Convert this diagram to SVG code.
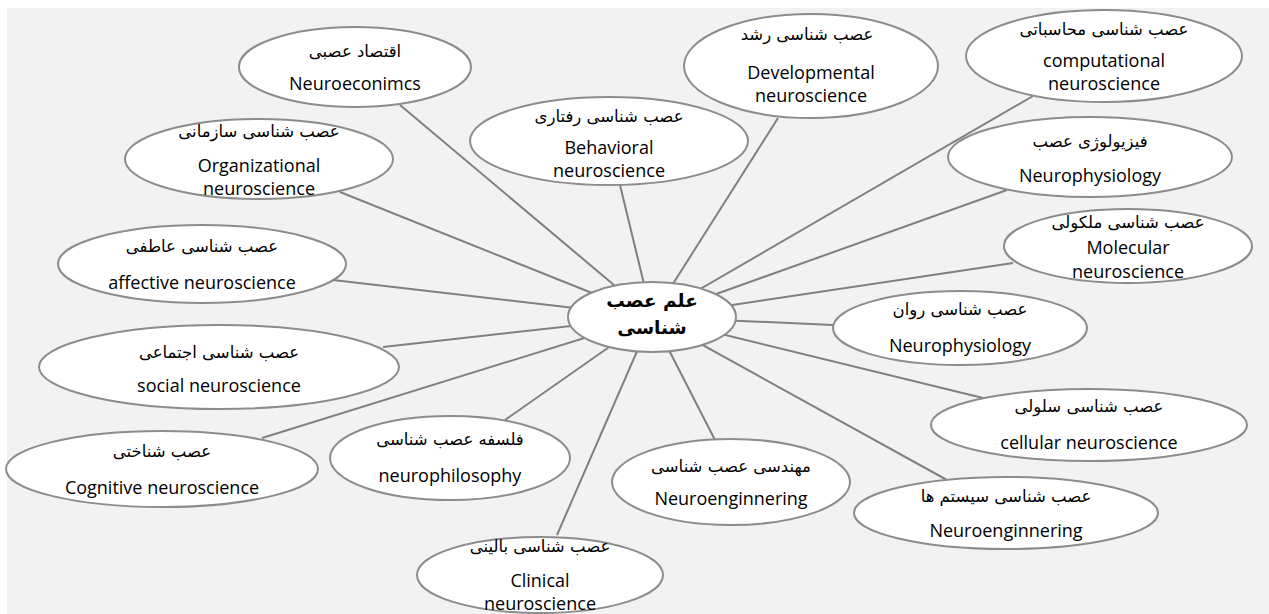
<svg xmlns="http://www.w3.org/2000/svg" width="1269" height="614" viewBox="0 0 1269 614">
<style>
.bg{fill:#f2f2f2}
.node ellipse{fill:#ffffff;stroke:#8c8c8c;stroke-width:2}
.edges line{stroke:#808080;stroke-width:2}
.fa{font-family:"DejaVu Sans",sans-serif;font-size:16.5px;fill:#000;text-anchor:middle}
.en{font-family:"Open Sans","Liberation Sans",sans-serif;font-size:18px;fill:#000;text-anchor:middle}
.ct{font-family:"DejaVu Sans",sans-serif;font-size:18.5px;font-weight:bold;fill:#000;text-anchor:middle}
</style>
<rect class="bg" x="7" y="8" width="1262" height="606"/>
<g id="connectors" class="edges">
<line x1="652" y1="317" x2="400" y2="105"/>
<line x1="652" y1="317" x2="340" y2="192"/>
<line x1="652" y1="317" x2="620" y2="185"/>
<line x1="652" y1="317" x2="778" y2="118"/>
<line x1="652" y1="317" x2="1033" y2="96"/>
<line x1="652" y1="317" x2="1007" y2="190"/>
<line x1="652" y1="317" x2="1013" y2="263"/>
<line x1="652" y1="317" x2="833" y2="325"/>
<line x1="652" y1="317" x2="983" y2="398"/>
<line x1="652" y1="317" x2="947" y2="480"/>
<line x1="652" y1="317" x2="715" y2="440"/>
<line x1="652" y1="317" x2="557" y2="535"/>
<line x1="652" y1="317" x2="505" y2="420"/>
<line x1="652" y1="317" x2="262" y2="438"/>
<line x1="652" y1="317" x2="383" y2="347"/>
<line x1="652" y1="317" x2="333" y2="280"/>
</g>
<g id="n-neuroeconomics" class="node">
<ellipse cx="355" cy="67" rx="116" ry="40"/>
<text class="fa" x="355" y="57">اقتصاد عصبی</text>
<text class="en" x="355" y="90">Neuroeconimcs</text>
</g>
<g id="n-organizational" class="node">
<ellipse cx="259" cy="159" rx="134" ry="40"/>
<text class="fa" x="259" y="137">عصب شناسی سازمانی</text>
<text class="en" x="259" y="172">Organizational</text>
<text class="en" x="259" y="195">neuroscience</text>
</g>
<g id="n-behavioral" class="node">
<ellipse cx="609" cy="141" rx="139" ry="44"/>
<text class="fa" x="609" y="122">عصب شناسی رفتاری</text>
<text class="en" x="609" y="154">Behavioral</text>
<text class="en" x="609" y="177">neuroscience</text>
</g>
<g id="n-developmental" class="node">
<ellipse cx="811" cy="66" rx="127" ry="52"/>
<text class="fa" x="807" y="40">عصب شناسی رشد</text>
<text class="en" x="811" y="79">Developmental</text>
<text class="en" x="811" y="102">neuroscience</text>
</g>
<g id="n-computational" class="node">
<ellipse cx="1104" cy="56" rx="138" ry="46"/>
<text class="fa" x="1104" y="35">عصب شناسی محاسباتی</text>
<text class="en" x="1104" y="67">computational</text>
<text class="en" x="1104" y="90">neuroscience</text>
</g>
<g id="n-neurophysiology1" class="node">
<ellipse cx="1090" cy="157" rx="142" ry="40"/>
<text class="fa" x="1090" y="147">فیزیولوژی عصب</text>
<text class="en" x="1090" y="182">Neurophysiology</text>
</g>
<g id="n-molecular" class="node">
<ellipse cx="1128" cy="246" rx="124" ry="37"/>
<text class="fa" x="1128" y="228">عصب شناسی ملکولی</text>
<text class="en" x="1128" y="254">Molecular</text>
<text class="en" x="1128" y="278">neuroscience</text>
</g>
<g id="n-neurophysiology2" class="node">
<ellipse cx="960" cy="328" rx="127" ry="37"/>
<text class="fa" x="960" y="315">عصب شناسی روان</text>
<text class="en" x="960" y="352">Neurophysiology</text>
</g>
<g id="n-cellular" class="node">
<ellipse cx="1089" cy="425" rx="158" ry="36"/>
<text class="fa" x="1089" y="412">عصب شناسی سلولی</text>
<text class="en" x="1089" y="449">cellular neuroscience</text>
</g>
<g id="n-systems" class="node">
<ellipse cx="1006" cy="513" rx="152" ry="36"/>
<text class="fa" x="1006" y="502">عصب شناسی سیستم ها</text>
<text class="en" x="1006" y="537">Neuroenginnering</text>
</g>
<g id="n-neuroengineering" class="node">
<ellipse cx="731" cy="482" rx="119" ry="43"/>
<text class="fa" x="731" y="472">مهندسی عصب شناسی</text>
<text class="en" x="731" y="505">Neuroenginnering</text>
</g>
<g id="n-clinical" class="node">
<ellipse cx="540" cy="575" rx="123" ry="38"/>
<text class="fa" x="540" y="552">عصب شناسی بالینی</text>
<text class="en" x="540" y="587">Clinical</text>
<text class="en" x="540" y="610">neuroscience</text>
</g>
<g id="n-neurophilosophy" class="node">
<ellipse cx="450" cy="458" rx="120" ry="42"/>
<text class="fa" x="450" y="445">فلسفه عصب شناسی</text>
<text class="en" x="450" y="482">neurophilosophy</text>
</g>
<g id="n-cognitive" class="node">
<ellipse cx="162" cy="469" rx="156" ry="38"/>
<text class="fa" x="162" y="457">عصب شناختی</text>
<text class="en" x="162" y="494">Cognitive neuroscience</text>
</g>
<g id="n-social" class="node">
<ellipse cx="219" cy="367" rx="180" ry="42"/>
<text class="fa" x="219" y="358">عصب شناسی اجتماعی</text>
<text class="en" x="219" y="392">social neuroscience</text>
</g>
<g id="n-affective" class="node">
<ellipse cx="202" cy="264" rx="144" ry="39"/>
<text class="fa" x="202" y="252">عصب شناسی عاطفی</text>
<text class="en" x="202" y="289">affective neuroscience</text>
</g>
<g id="n-center" class="node">
<ellipse cx="652" cy="317" rx="84" ry="35"/>
<text class="ct" x="652" y="307">علم عصب</text>
<text class="ct" x="652" y="334">شناسی</text>
</g>
</svg>
